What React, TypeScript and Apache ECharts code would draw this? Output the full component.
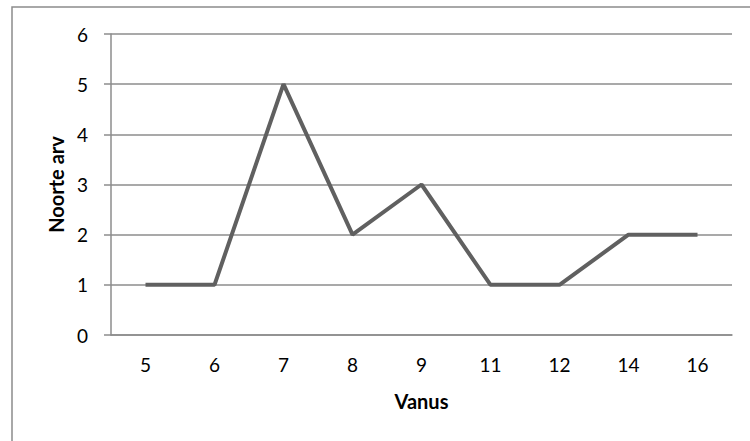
import React, { useEffect, useRef } from "react";
import * as echarts from "echarts";

const categories = ["5", "6", "7", "8", "9", "11", "12", "14", "16"];
const values = [1, 1, 5, 2, 3, 1, 1, 2, 2];
const xTitle = "Vanus";
const yTitle = "Noorte arv";

export default function App() {
  const ref = useRef<HTMLDivElement>(null);
  useEffect(() => {
    if (!ref.current) return;
    const chart = echarts.init(ref.current, undefined, { renderer: "svg" });
    const font = "Lato, 'Open Sans', sans-serif";
    chart.setOption({
      animation: false,
      backgroundColor: "#ffffff",
      graphic: [
        {
          type: "rect",
          shape: { x: 12, y: 7, width: 800, height: 500 },
          style: { fill: "none", stroke: "#8c8c8c", lineWidth: 1.5 },
          silent: true,
        },
      ],
      grid: { left: 111, right: 18, top: 34, bottom: 106, containLabel: false },
      xAxis: {
        type: "category",
        data: categories,
        boundaryGap: true,
        name: xTitle,
        nameLocation: "middle",
        nameGap: 56,
        nameTextStyle: { fontFamily: font, fontWeight: "bold", fontSize: 20, color: "#000" },
        axisLine: { lineStyle: { color: "#8c8c8c", width: 1.5 } },
        axisTick: { show: false },
        axisLabel: { fontFamily: font, fontSize: 19, color: "#000", margin: 20 },
      },
      yAxis: {
        type: "value",
        min: 0,
        max: 6,
        interval: 1,
        name: yTitle,
        nameLocation: "middle",
        nameGap: 45,
        nameRotate: 90,
        nameTextStyle: { fontFamily: font, fontWeight: "bold", fontSize: 20, color: "#000" },
        axisLine: { show: true, lineStyle: { color: "#8c8c8c", width: 1.5 } },
        axisTick: { show: true, length: 7, lineStyle: { color: "#8c8c8c", width: 1.5 } },
        axisLabel: { fontFamily: font, fontSize: 19, color: "#000", margin: 23 },
        splitLine: { lineStyle: { color: "#8c8c8c", width: 1.5 } },
      },
      series: [
        {
          type: "line",
          data: values,
          symbol: "none",
          lineStyle: { color: "#606060", width: 4 },
        },
      ],
    });
    return () => chart.dispose();
  }, []);
  return (
    <div
      ref={ref}
      style={{ position: "fixed", left: 0, top: 0, width: 750, height: 441 }}
    />
  );
}
